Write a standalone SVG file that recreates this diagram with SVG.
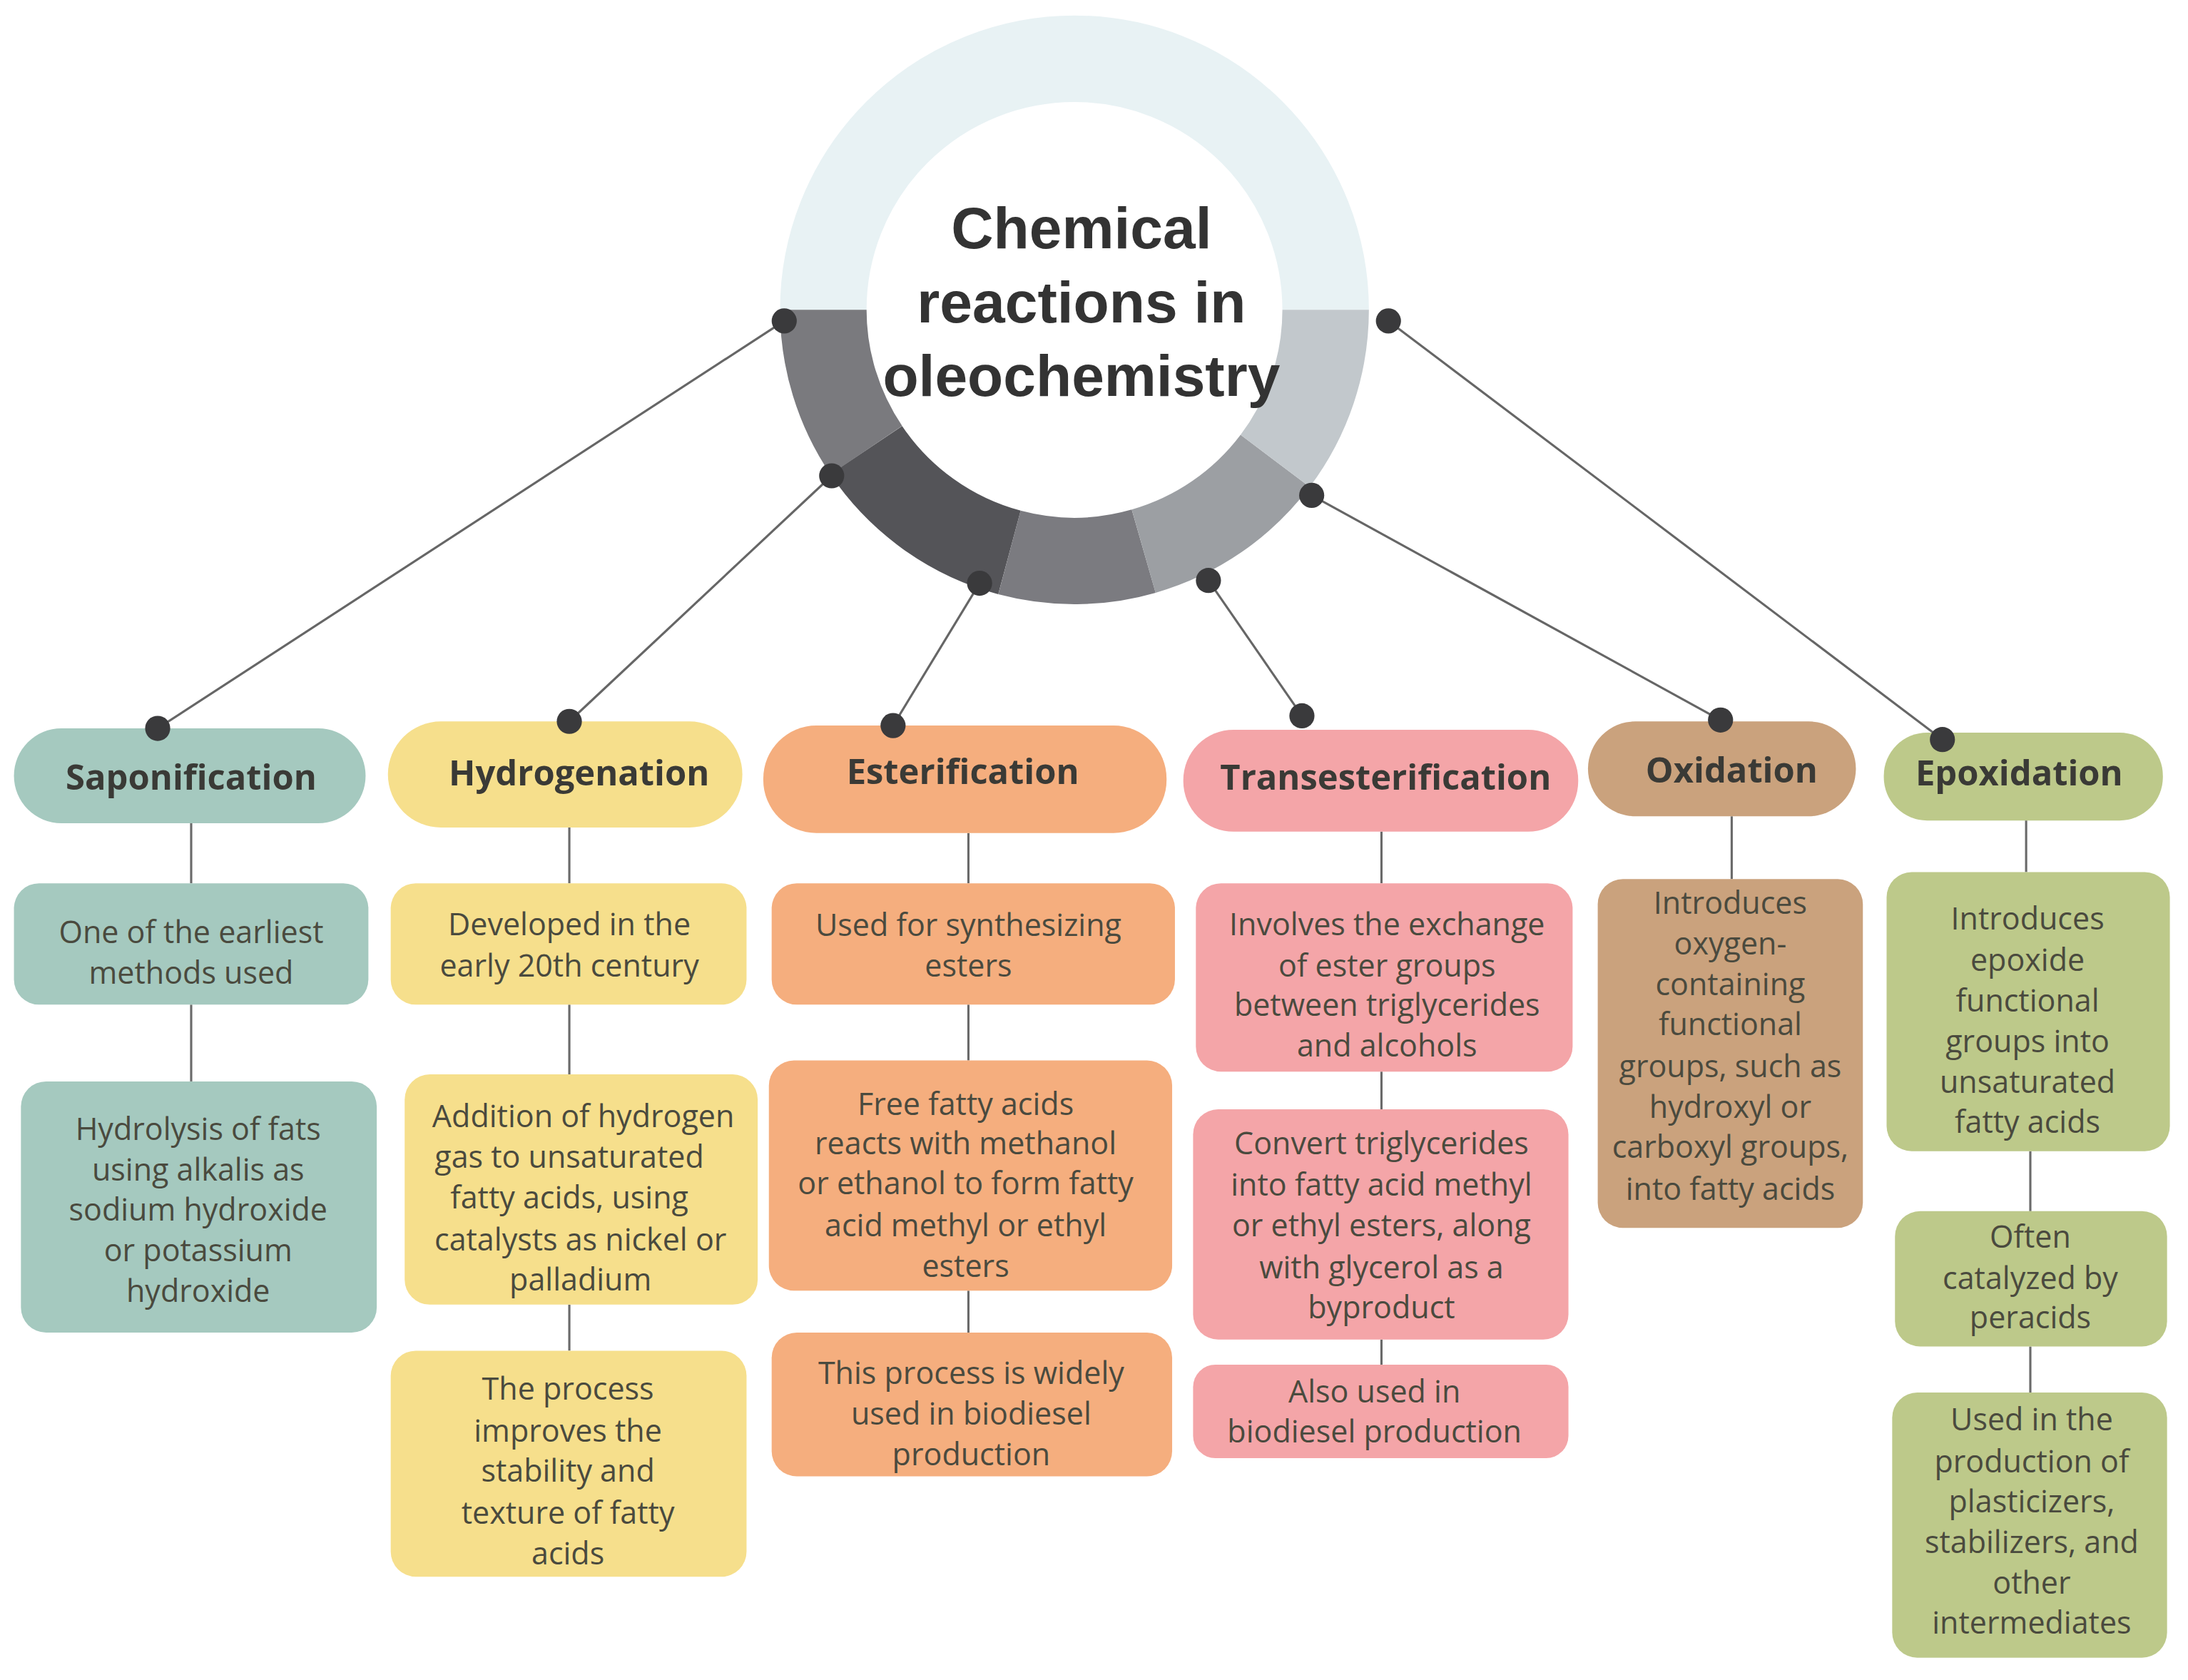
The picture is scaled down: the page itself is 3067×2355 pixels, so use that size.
<svg xmlns="http://www.w3.org/2000/svg" width="3067" height="2355" viewBox="0 0 3067 2355">
<style>
.t{font-family:"Open Sans","Liberation Sans",sans-serif;font-size:22px;fill:#4a4a3e;text-anchor:middle}
.h{font-family:"Open Sans","Liberation Sans",sans-serif;font-size:25px;font-weight:bold;fill:#3a3a36;text-anchor:middle}
.ttl{font-family:"Liberation Sans",sans-serif;font-size:42px;font-weight:bold;fill:#333;text-anchor:middle}
.c{stroke:#666;stroke-width:1.6;fill:none}
.v{stroke:#6a6a6a;stroke-width:1.6}
.d{fill:#3a3a3c}
.sap{fill:#a5c9bf}.hyd{fill:#f6df8c}.est{fill:#f5ae7e}.tra{fill:#f4a5a8}.oxi{fill:#caa27d}.epo{fill:#bdc98a}
</style>
<rect width="3067" height="2355" fill="#fff"/>
<g transform="scale(1.956)">
<g id="center">
<path d="M590,222 A180,180 0 0 1 950,222" stroke="#e8f2f4" stroke-width="62" fill="none"/>
<path d="M590,222 A180,180 0 0 0 620.8,322.6" stroke="#7a7a7e" stroke-width="62" fill="none"/>
<path d="M620.8,322.6 A180,180 0 0 0 723.4,395.9" stroke="#545458" stroke-width="62" fill="none"/>
<path d="M723.4,395.9 A180,180 0 0 0 819.6,395.0" stroke="#7b7b80" stroke-width="62" fill="none"/>
<path d="M819.6,395.0 A180,180 0 0 0 913.8,330.3" stroke="#9c9fa3" stroke-width="62" fill="none"/>
<path d="M913.8,330.3 A180,180 0 0 0 950,222" stroke="#c2c8cc" stroke-width="62" fill="none"/>
<text class="ttl" x="775" y="178">Chemical</text>
<text class="ttl" x="775" y="231">reactions  in</text>
<text class="ttl" x="775" y="284">oleochemistry</text>
</g>
<g id="connectors">
<line class="c" x1="562" y1="230" x2="113" y2="522"/>
<line class="c" x1="596" y1="341" x2="408" y2="517"/>
<line class="c" x1="702" y1="418" x2="640" y2="520"/>
<line class="c" x1="866" y1="416" x2="933" y2="513"/>
<line class="c" x1="940" y1="355" x2="1233" y2="516"/>
<line class="c" x1="995" y1="230" x2="1392" y2="530"/>
<line class="v" x1="137" y1="590" x2="137" y2="633"/><line class="v" x1="137" y1="720" x2="137" y2="775"/>
<line class="v" x1="408" y1="593" x2="408" y2="633"/><line class="v" x1="408" y1="720" x2="408" y2="770"/><line class="v" x1="408" y1="935" x2="408" y2="968"/>
<line class="v" x1="694" y1="597" x2="694" y2="633"/><line class="v" x1="694" y1="720" x2="694" y2="760"/><line class="v" x1="694" y1="925" x2="694" y2="955"/>
<line class="v" x1="990" y1="596" x2="990" y2="633"/><line class="v" x1="990" y1="768" x2="990" y2="795"/><line class="v" x1="990" y1="960" x2="990" y2="978"/>
<line class="v" x1="1241" y1="585" x2="1241" y2="630"/>
<line class="v" x1="1452" y1="588" x2="1452" y2="625"/><line class="v" x1="1455" y1="825" x2="1455" y2="868"/><line class="v" x1="1455" y1="965" x2="1455" y2="998"/>
<g class="d">
<circle cx="562" cy="230" r="9"/><circle cx="596" cy="341" r="9"/><circle cx="702" cy="418" r="9"/><circle cx="866" cy="416" r="9"/><circle cx="940" cy="355" r="9"/><circle cx="995" cy="230" r="9"/>
</g>
</g>
<g id="saponification">
<rect class="sap" x="10" y="522" width="252" height="68" rx="34"/><text class="h" x="137" y="566">Saponification</text>
<rect class="sap" x="10" y="633" width="254" height="87" rx="18"/>
<text class="t" x="137" y="676">One of the earliest</text><text class="t" x="137" y="705">methods used</text>
<rect class="sap" x="15" y="775" width="255" height="180" rx="18"/>
<text class="t" x="142" y="817">Hydrolysis of fats</text><text class="t" x="142" y="846">using alkalis as</text><text class="t" x="142" y="875">sodium hydroxide</text><text class="t" x="142" y="904">or potassium</text><text class="t" x="142" y="933">hydroxide</text>
<circle class="d" cx="113" cy="522" r="9"/>
</g>
<g id="hydrogenation">
<rect class="hyd" x="278" y="517" width="254" height="76" rx="38"/><text class="h" x="415" y="563">Hydrogenation</text>
<rect class="hyd" x="280" y="633" width="255" height="87" rx="18"/>
<text class="t" x="408" y="670">Developed in the</text><text class="t" x="408" y="700">early 20th century</text>
<rect class="hyd" x="290" y="770" width="253" height="165" rx="18"/>
<text class="t" x="418" y="808">Addition of hydrogen</text><text class="t" x="408" y="837">gas to unsaturated</text><text class="t" x="408" y="866">fatty acids, using</text><text class="t" x="416" y="896">catalysts as nickel or</text><text class="t" x="416" y="925">palladium</text>
<rect class="hyd" x="280" y="968" width="255" height="162" rx="18"/>
<text class="t" x="407" y="1003">The process</text><text class="t" x="407" y="1033">improves the</text><text class="t" x="407" y="1062">stability and</text><text class="t" x="407" y="1092">texture of fatty</text><text class="t" x="407" y="1121">acids</text>
<circle class="d" cx="408" cy="517" r="9"/>
</g>
<g id="esterification">
<rect class="est" x="547" y="520" width="289" height="77" rx="38"/><text class="h" x="690" y="562">Esterification</text>
<rect class="est" x="553" y="633" width="289" height="87" rx="18"/>
<text class="t" x="694" y="671">Used for synthesizing</text><text class="t" x="694" y="700">esters</text>
<rect class="est" x="551" y="760" width="289" height="165" rx="18"/>
<text class="t" x="692" y="799">Free fatty acids</text><text class="t" x="692" y="827">reacts with methanol</text><text class="t" x="692" y="856">or ethanol to form fatty</text><text class="t" x="692" y="886">acid methyl or ethyl</text><text class="t" x="692" y="915">esters</text>
<rect class="est" x="553" y="955" width="287" height="103" rx="18"/>
<text class="t" x="696" y="992">This process is widely</text><text class="t" x="696" y="1021">used in biodiesel</text><text class="t" x="696" y="1050">production</text>
<circle class="d" cx="640" cy="520" r="9"/>
</g>
<g id="transesterification">
<rect class="tra" x="848" y="523" width="283" height="73" rx="36"/><text class="h" x="993" y="566">Transesterification</text>
<rect class="tra" x="857" y="633" width="270" height="135" rx="18"/>
<text class="t" x="994" y="670">Involves the exchange</text><text class="t" x="994" y="700">of ester groups</text><text class="t" x="994" y="728">between triglycerides</text><text class="t" x="994" y="757">and alcohols</text>
<rect class="tra" x="855" y="795" width="269" height="165" rx="18"/>
<text class="t" x="990" y="827">Convert triglycerides</text><text class="t" x="990" y="857">into fatty acid methyl</text><text class="t" x="990" y="886">or ethyl esters, along</text><text class="t" x="990" y="916">with glycerol as a</text><text class="t" x="990" y="945">byproduct</text>
<rect class="tra" x="855" y="978" width="269" height="67" rx="16"/>
<text class="t" x="985" y="1005">Also used in</text><text class="t" x="985" y="1034">biodiesel production</text>
<circle class="d" cx="933" cy="513" r="9"/>
</g>
<g id="oxidation">
<rect class="oxi" x="1138" y="517" width="192" height="68" rx="34"/><text class="h" x="1241" y="561">Oxidation</text>
<rect class="oxi" x="1145" y="630" width="190" height="250" rx="18"/>
<text class="t" x="1240" y="655">Introduces</text><text class="t" x="1240" y="684">oxygen-</text><text class="t" x="1240" y="713">containing</text><text class="t" x="1240" y="742">functional</text><text class="t" x="1240" y="772">groups, such as</text><text class="t" x="1240" y="801">hydroxyl or</text><text class="t" x="1240" y="830">carboxyl groups,</text><text class="t" x="1240" y="860">into fatty acids</text>
<circle class="d" cx="1233" cy="516" r="9"/>
</g>
<g id="epoxidation">
<rect class="epo" x="1350" y="525" width="200" height="63" rx="31"/><text class="h" x="1447" y="563">Epoxidation</text>
<rect class="epo" x="1352" y="625" width="203" height="200" rx="18"/>
<text class="t" x="1453" y="666">Introduces</text><text class="t" x="1453" y="696">epoxide</text><text class="t" x="1453" y="725">functional</text><text class="t" x="1453" y="754">groups into</text><text class="t" x="1453" y="783">unsaturated</text><text class="t" x="1453" y="812">fatty acids</text>
<rect class="epo" x="1358" y="868" width="195" height="97" rx="18"/>
<text class="t" x="1455" y="894">Often</text><text class="t" x="1455" y="924">catalyzed by</text><text class="t" x="1455" y="952">peracids</text>
<rect class="epo" x="1356" y="998" width="197" height="190" rx="18"/>
<text class="t" x="1456" y="1025">Used in the</text><text class="t" x="1456" y="1055">production of</text><text class="t" x="1456" y="1084">plasticizers,</text><text class="t" x="1456" y="1113">stabilizers, and</text><text class="t" x="1456" y="1142">other</text><text class="t" x="1456" y="1171">intermediates</text>
<circle class="d" cx="1392" cy="530" r="9"/>
</g>
</g>
</svg>
